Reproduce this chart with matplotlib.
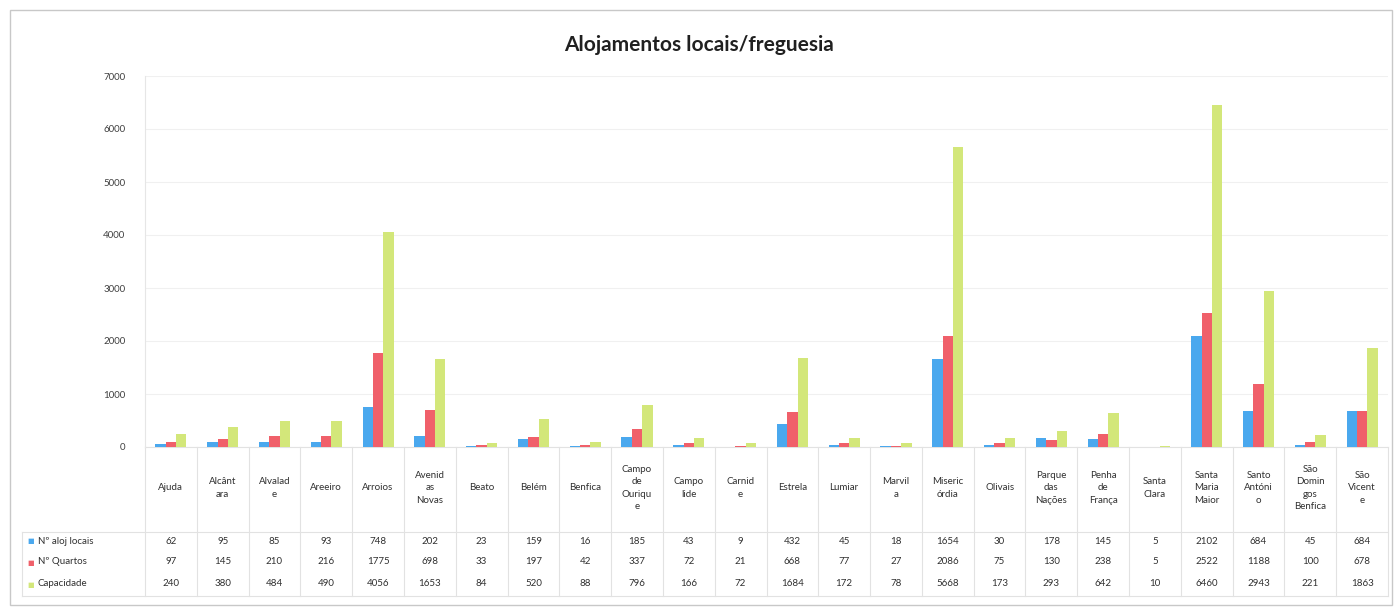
import matplotlib.pyplot as plt
import numpy as np

plt.rcParams['font.family'] = ['Lato', 'DejaVu Sans']

categories = ["Ajuda", "Alcânt\nara", "Alvalad\ne", "Areeiro", "Arroios",
              "Avenid\nas\nNovas", "Beato", "Belém", "Benfica",
              "Campo\nde\nOuriqu\ne", "Campo\nlide", "Carnid\ne", "Estrela",
              "Lumiar", "Marvil\na", "Miseric\nórdia", "Olivais",
              "Parque\ndas\nNações", "Penha\nde\nFrança", "Santa\nClara",
              "Santa\nMaria\nMaior", "Santo\nAntóni\no", "São\nDomin\ngos\nBenfica",
              "São\nVicent\ne"]
aloj_locais = [62, 95, 85, 93, 748, 202, 23, 159, 16, 185, 43, 9, 432, 45, 18,
               1654, 30, 178, 145, 5, 2102, 684, 45, 684]
quartos = [97, 145, 210, 216, 1775, 698, 33, 197, 42, 337, 72, 21, 668, 77, 27,
           2086, 75, 130, 238, 5, 2522, 1188, 100, 678]
capacidade = [240, 380, 484, 490, 4056, 1653, 84, 520, 88, 796, 166, 72, 1684,
              172, 78, 5668, 173, 293, 642, 10, 6460, 2943, 221, 1863]
series_names = ["Nº aloj locais", "Nº Quartos", "Capacidade"]
colors = ["#4aa8ee", "#f0606a", "#d3e77a"]

W, H = 1398, 610
fig = plt.figure(figsize=(W / 100, H / 100), dpi=100)

# outer chart border
fig.add_artist(plt.Rectangle((10 / W, 5 / H), 1382 / W, 595 / H, transform=fig.transFigure,
                             fill=False, edgecolor="#c8c8c8", linewidth=1))

ax_l, ax_r, ax_b, ax_t = 145, 1388, 447, 76
ax = fig.add_axes([ax_l / W, 1 - ax_b / H, (ax_r - ax_l) / W, (ax_b - ax_t) / H])

n = len(categories)
x = np.arange(n)
bw = 0.2
data = [aloj_locais, quartos, capacidade]
for i, (vals, c) in enumerate(zip(data, colors)):
    ax.bar(x + (i - 1) * bw, vals, bw, color=c, zorder=3)

ax.set_xlim(-0.5, n - 0.5)
ax.set_ylim(0, 7000)
ax.set_yticks(range(0, 7001, 1000))
ax.tick_params(axis="y", length=0, labelsize=7, colors="#404040", pad=14)
ax.set_xticks([])
ax.grid(axis="y", color="#f0f0f0", linewidth=0.8, zorder=0)
for s in ["top", "right", "bottom"]:
    ax.spines[s].set_visible(False)
ax.spines["left"].set_color("#e6e6e6")

fig.text(0.5, 1 - 45 / H, "Alojamentos locais/freguesia", ha="center", va="center",
         fontsize=15, fontweight="bold", color="#202020")

# data table below the axis
tr = ax.get_xaxis_transform()
ax_h = ax_b - ax_t
def yfrac(py):
    return (ax_b - py) / ax_h

line_kw = dict(transform=tr, color="#e2e2e2", linewidth=0.8, clip_on=False)
table_bottom = yfrac(596)
left_x = -0.5 - (ax_l - 22) / ((ax_r - ax_l) / n)
for k in range(n + 1):
    ax.plot([k - 0.5, k - 0.5], [0, table_bottom], **line_kw)
ax.plot([left_x, left_x], [yfrac(532), table_bottom], **line_kw)
ax.plot([-0.5, n - 0.5], [0, 0], **line_kw)
for py in [532, 596]:
    ax.plot([left_x, n - 0.5], [yfrac(py), yfrac(py)], **line_kw)

for k, lab in enumerate(categories):
    ax.text(k, yfrac(488), lab, transform=tr, ha="center", va="center",
            fontsize=7, color="#303030", linespacing=1.45, clip_on=False)

row_y = [541, 562, 584]
for vals, name, c, py in zip(data, series_names, colors, row_y):
    yy = yfrac(py)
    ax.text(left_x + 0.1, yy, "■", transform=tr, ha="left", va="center",
            fontsize=5, color=c, clip_on=False)
    ax.text(left_x + 0.3, yy, name, transform=tr, ha="left", va="center",
            fontsize=7, color="#303030", clip_on=False)
    for k, v in enumerate(vals):
        ax.text(k, yy, str(v), transform=tr, ha="center", va="center",
                fontsize=7, color="#303030", clip_on=False)

fig.savefig("out.png", dpi=100)
